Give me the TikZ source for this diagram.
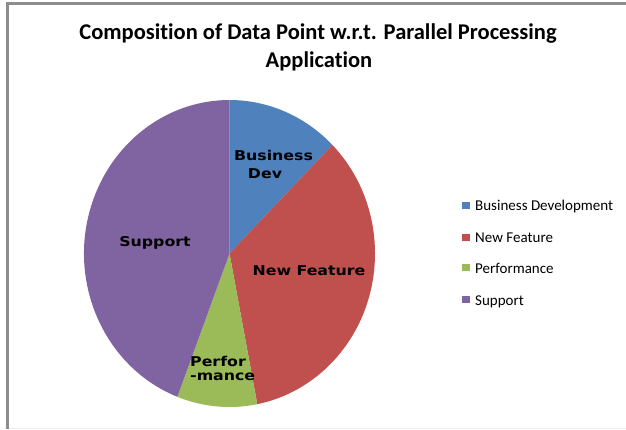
\documentclass[tikz,border=0pt]{standalone}
\usepackage{fontspec}
\usetikzlibrary{calc}
\setmainfont{Carlito}[Ligatures=NoCommon]
\newfontfamily\labelfont{DejaVu Sans}
\definecolor{cblue}{HTML}{4F81BD}
\definecolor{cred}{HTML}{C0504D}
\definecolor{cgreen}{HTML}{9BBB59}
\definecolor{cpurple}{HTML}{8064A2}
\definecolor{frame}{HTML}{8C8C8C}
\tikzset{
  titletext/.style={font=\fontsize{22.5}{27}\selectfont\bfseries, anchor=base, inner sep=0pt},
  slicelabel/.style={font=\labelfont\fontsize{13.5}{15}\selectfont\bfseries, anchor=base, inner sep=0pt, xscale=1.17},
  legendtext/.style={font=\fontsize{15}{17}\selectfont, anchor=base west, inner sep=0pt},
  legendkey/.style={minimum size=7.5pt, inner sep=0pt, anchor=south west}
}
\begin{document}
\begin{tikzpicture}[x=1pt,y=1pt]
\useasboundingbox (0,0) rectangle (626,429);
\fill[white] (0,0) rectangle (626,429);
% frame
\draw[frame, line width=2.5pt] (7.5,0) -- (7.5,425.5) -- (626,425.5);
\draw[black!7, line width=1pt] (9,1) -- (626,1);
% title
\node[titletext] (t1) at (318,389) {Composition of Data Point w.r.t. Parallel Processing};
\node[titletext] (t2) at (319,361) {Application};
% pie
\coordinate (c) at (229.5,175.5);
\fill[cblue]   (c) -- ($(c)+(90:145.5 and 153.5)$) arc[start angle=90, end angle=45, x radius=145.5, y radius=153.5] -- cycle;
\fill[cred]    (c) -- ($(c)+(45:145.5 and 153.5)$) arc[start angle=45, end angle=-79, x radius=145.5, y radius=153.5] -- cycle;
\fill[cgreen]  (c) -- ($(c)+(-79:145.5 and 153.5)$) arc[start angle=-79, end angle=-111, x radius=145.5, y radius=153.5] -- cycle;
\fill[cpurple] (c) -- ($(c)+(-111:145.5 and 153.5)$) arc[start angle=-111, end angle=-270, x radius=145.5, y radius=153.5] -- cycle;
% slice labels
\node[slicelabel] (bd1) at (273.5,268.3) {Business};
\node[slicelabel] (bd2) at (265,251) {Dev};
\node[slicelabel] (nf) at (309,154) {New Feature};
\node[slicelabel] (sp) at (155,182.3) {Support};
\node[slicelabel] (pf1) at (218,63) {Perfor};
\node[slicelabel] (pf2) at (222.7,49) {-mance};
% legend
\node[legendkey, fill=cblue]   (k1) at (462,219.8) {};
\node[legendkey, fill=cred]    (k2) at (462,187.8) {};
\node[legendkey, fill=cgreen]  (k3) at (462,157.5) {};
\node[legendkey, fill=cpurple] (k4) at (462,125.5) {};
\node[legendtext] (l1) at (475,218.3) {Business Development};
\node[legendtext] (l2) at (475,186.3) {New Feature};
\node[legendtext] (l3) at (475,156) {Performance};
\node[legendtext] (l4) at (475,124) {Support};
\end{tikzpicture}
\end{document}
